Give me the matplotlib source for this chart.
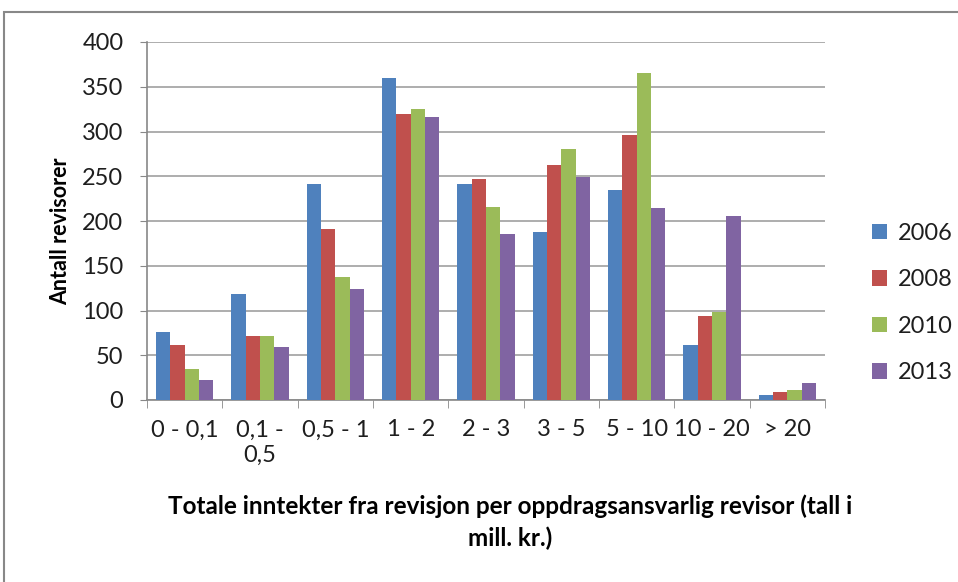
import matplotlib
matplotlib.use("Agg")
import matplotlib.pyplot as plt
import numpy as np
from matplotlib.patches import Rectangle

categories = ["0 - 0,1", "0,1 -\n0,5", "0,5 - 1", "1 - 2", "2 - 3", "3 - 5", "5 - 10", "10 - 20", "> 20"]
years = ["2006", "2008", "2010", "2013"]
v2006 = [76, 118, 241, 360, 241, 188, 235, 62, 6]
v2008 = [61, 72, 191, 319, 247, 263, 296, 94, 9]
v2010 = [35, 72, 137, 325, 216, 280, 365, 98, 11]
v2013 = [22, 59, 124, 316, 186, 249, 214, 206, 19]
series = [v2006, v2008, v2010, v2013]
colors = ["#4F81BD", "#C0504D", "#9BBB59", "#8064A2"]

plt.rcParams['font.family'] = ['Lato', 'DejaVu Sans']
txt = '#1e1e1e'

fig = plt.figure(figsize=(9.58, 5.82), dpi=100)
ax = fig.add_axes([147/958, 1-400/582, (825-147)/958, (400-42)/582])

x = np.arange(len(categories))
bw = 0.19
for i, (vals, c, y) in enumerate(zip(series, colors, years)):
    ax.bar(x + (i - 1.5) * bw, vals, bw, color=c, label=y, zorder=3)

ax.set_xlim(-0.5, len(categories) - 0.5)
ax.set_ylim(0, 400)
ax.set_yticks(range(0, 401, 50))
ax.tick_params(axis='y', labelsize=17, labelcolor=txt, length=5, color='#888888', direction='out', pad=12)
ax.set_xticks(x)
ax.set_xticklabels(categories, fontsize=17, color=txt, linespacing=1.25)
ax.tick_params(axis='x', length=0, pad=14)
ax.set_xticks(np.arange(-0.5, len(categories), 1), minor=True)
ax.tick_params(axis='x', which='minor', length=6, color='#888888', direction='out')
ax.grid(axis='y', color='#A0A0A0', linewidth=1.2, zorder=0)
for s in ['top', 'right']:
    ax.spines[s].set_visible(False)
for s in ['left', 'bottom']:
    ax.spines[s].set_color('#888888')
    ax.spines[s].set_linewidth(1.2)

ax.set_ylabel("Antall revisorer", fontsize=15.5, fontweight='bold', color='black')
ax.yaxis.set_label_coords(-0.112, 0.47)
fig.text(510/958, 1-522/582, "Totale inntekter fra revisjon per oppdragsansvarlig revisor (tall i\nmill. kr.)",
         ha='center', va='center', fontsize=17.5, fontweight='bold', linespacing=1.45, color='black')

leg = ax.legend(loc='center left', bbox_to_anchor=(860/958, 1-303/582), bbox_transform=fig.transFigure,
                frameon=False, fontsize=17, handlelength=0.65, handleheight=0.65, labelspacing=1.08,
                handletextpad=0.45, borderpad=0, labelcolor=txt)

fig.patches.append(Rectangle((4/958, -10/582), 990/958, 580/582, transform=fig.transFigure,
                             fill=False, edgecolor='#888888', linewidth=1.5))

fig.savefig("out.png", dpi=100)
